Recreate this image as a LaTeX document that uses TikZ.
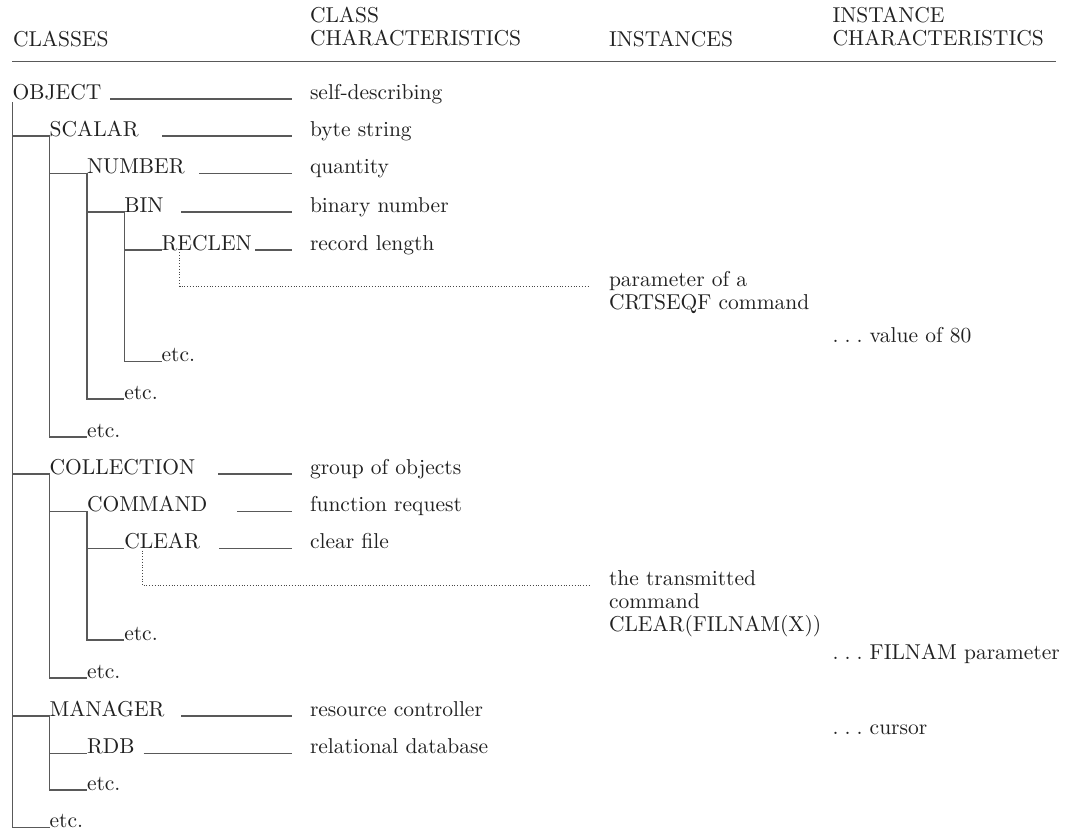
\documentclass[tikz,border=0pt]{standalone}
\usetikzlibrary{calc}
\definecolor{ink}{gray}{0.13}
\definecolor{linegray}{gray}{0.35}
% multi-line label whose reference point is the baseline of its first line
\newcommand{\stacked}[1]{\begin{tabular}[t]{@{}l@{}}#1\end{tabular}}
% spaced leader dots
\newcommand{\leaderdots}{.\kern.28em.\kern.28em.\ }
\begin{document}
\begin{tikzpicture}[x=1pt,y=-1pt,
  every node/.style={inner sep=0pt, outer sep=0pt, anchor=base west, text=ink,
                     font=\fontsize{10}{10.7}\selectfont, scale=2.15, transform shape},
  tree/.style={draw=linegray, line width=1.2pt, line join=miter},
  link/.style={draw=linegray, line width=1.2pt},
  dotlink/.style={draw=linegray!80!black, line width=1pt, dash pattern=on 1pt off 1.8pt},
  headrule/.style={draw=linegray, line width=1.4pt}]
\useasboundingbox (0,0) rectangle (1073,831);

% ---- column headings ----
\node (hclasses)   at (13,46)      {CLASSES};
\node (hclasschar) at (310,22.7)   {\stacked{CLASS\\CHARACTERISTICS}};
\node (hinst)      at (609,46)     {INSTANCES};
\node (hinstchar)  at (832.6,22.7) {\stacked{INSTANCE\\CHARACTERISTICS}};
\coordinate (ruleL) at (12,61.3);
\coordinate (ruleR) at (1056,61.3);
\draw[headrule] (ruleL) -- (ruleR);

% ---- class hierarchy ----
\node (object)     at (12.7,99)    {OBJECT};
\node (scalar)     at (49.7,136)   {SCALAR};
\node (number)     at (87,173.5)   {NUMBER};
\node (bin)        at (124.3,212)  {BIN};
\node (reclen)     at (161.6,250)  {RECLEN};
\node (etcD)       at (161.6,361.7){etc.};
\node (etcC)       at (124.3,399)  {etc.};
\node (etcB)       at (87,437)     {etc.};
\node (collection) at (49.7,474)   {COLLECTION};
\node (command)    at (87,511.7)   {COMMAND};
\node (clear)      at (124.3,548.5){CLEAR};
\node (etcF)       at (124.3,640)  {etc.};
\node (etcE)       at (87,678)     {etc.};
\node (manager)    at (49.7,716)   {MANAGER};
\node (rdb)        at (87,753.3)   {RDB};
\node (etcG)       at (87,790)     {etc.};
\node (etcA)       at (49.7,827.5) {etc.};

% ---- class characteristics ----
\node (cobject)     at (310,99)    {self-describing};
\node (cscalar)     at (310,136)   {byte string};
\node (cnumber)     at (310,173.5) {quantity};
\node (cbin)        at (310,212)   {binary number};
\node (creclen)     at (310,250)   {record length};
\node (ccollection) at (310,474)   {group of objects};
\node (ccommand)    at (310,511.7) {function request};
\node (cclear)      at (310,548.5) {clear file};
\node (cmanager)    at (310,716)   {resource controller};
\node (crdb)        at (310,753.3) {relational database};

% ---- instances and instance characteristics ----
\node (iparam)  at (609,286.5)   {\stacked{parameter of a\\CRTSEQF command}};
\node (icmd)    at (609,585.7)   {\stacked{the transmitted\\command\\CLEAR(FILNAM(X))}};
\node (ivalue)  at (832.6,342.7) {\leaderdots value of 80};
\node (ifilnam) at (832.6,659.3) {\leaderdots FILNAM parameter};
\node (icursor) at (832.6,734.3) {\leaderdots cursor};

% ---- tree lines ----
\draw[tree] ([yshift=-3pt]object.base west) -- (object.base west |- etcA.base) -- (etcA.base west);
\draw[tree] (object.base west |- scalar.base) -- (scalar.base west) -- (scalar.base west |- etcB.base) -- (etcB.base west);
\draw[tree] (scalar.base west |- number.base) -- (number.base west) -- (number.base west |- etcC.base) -- (etcC.base west);
\draw[tree] (number.base west |- bin.base) -- (bin.base west) -- (bin.base west |- etcD.base) -- (etcD.base west);
\draw[tree] (bin.base west |- reclen.base) -- (reclen.base west);
\draw[tree] (object.base west |- collection.base) -- (collection.base west) -- (collection.base west |- etcE.base) -- (etcE.base west);
\draw[tree] (collection.base west |- command.base) -- (command.base west) -- (command.base west |- etcF.base) -- (etcF.base west);
\draw[tree] (command.base west |- clear.base) -- (clear.base west);
\draw[tree] (object.base west |- manager.base) -- (manager.base west) -- (manager.base west |- etcG.base) -- (etcG.base west);
\draw[tree] (manager.base west |- rdb.base) -- (rdb.base west);

% ---- class to characteristic rules ----
\foreach \n/\l in {object/200, scalar/148, number/111, bin/129, reclen/55,
                   collection/92, command/73, clear/91, manager/129, rdb/166.5}
  \draw[link] ([xshift=-\l pt]c\n.base west) -- ([xshift=-18pt]c\n.base west);

% ---- class to instance leaders ----
\draw[dotlink] ([xshift=18pt,yshift=-2pt]reclen.base west) |- ([xshift=-19pt]iparam.base west);
\draw[dotlink] ([xshift=18pt,yshift=-2pt]clear.base west) |- ([xshift=-19pt]icmd.base west);
\end{tikzpicture}
\end{document}
